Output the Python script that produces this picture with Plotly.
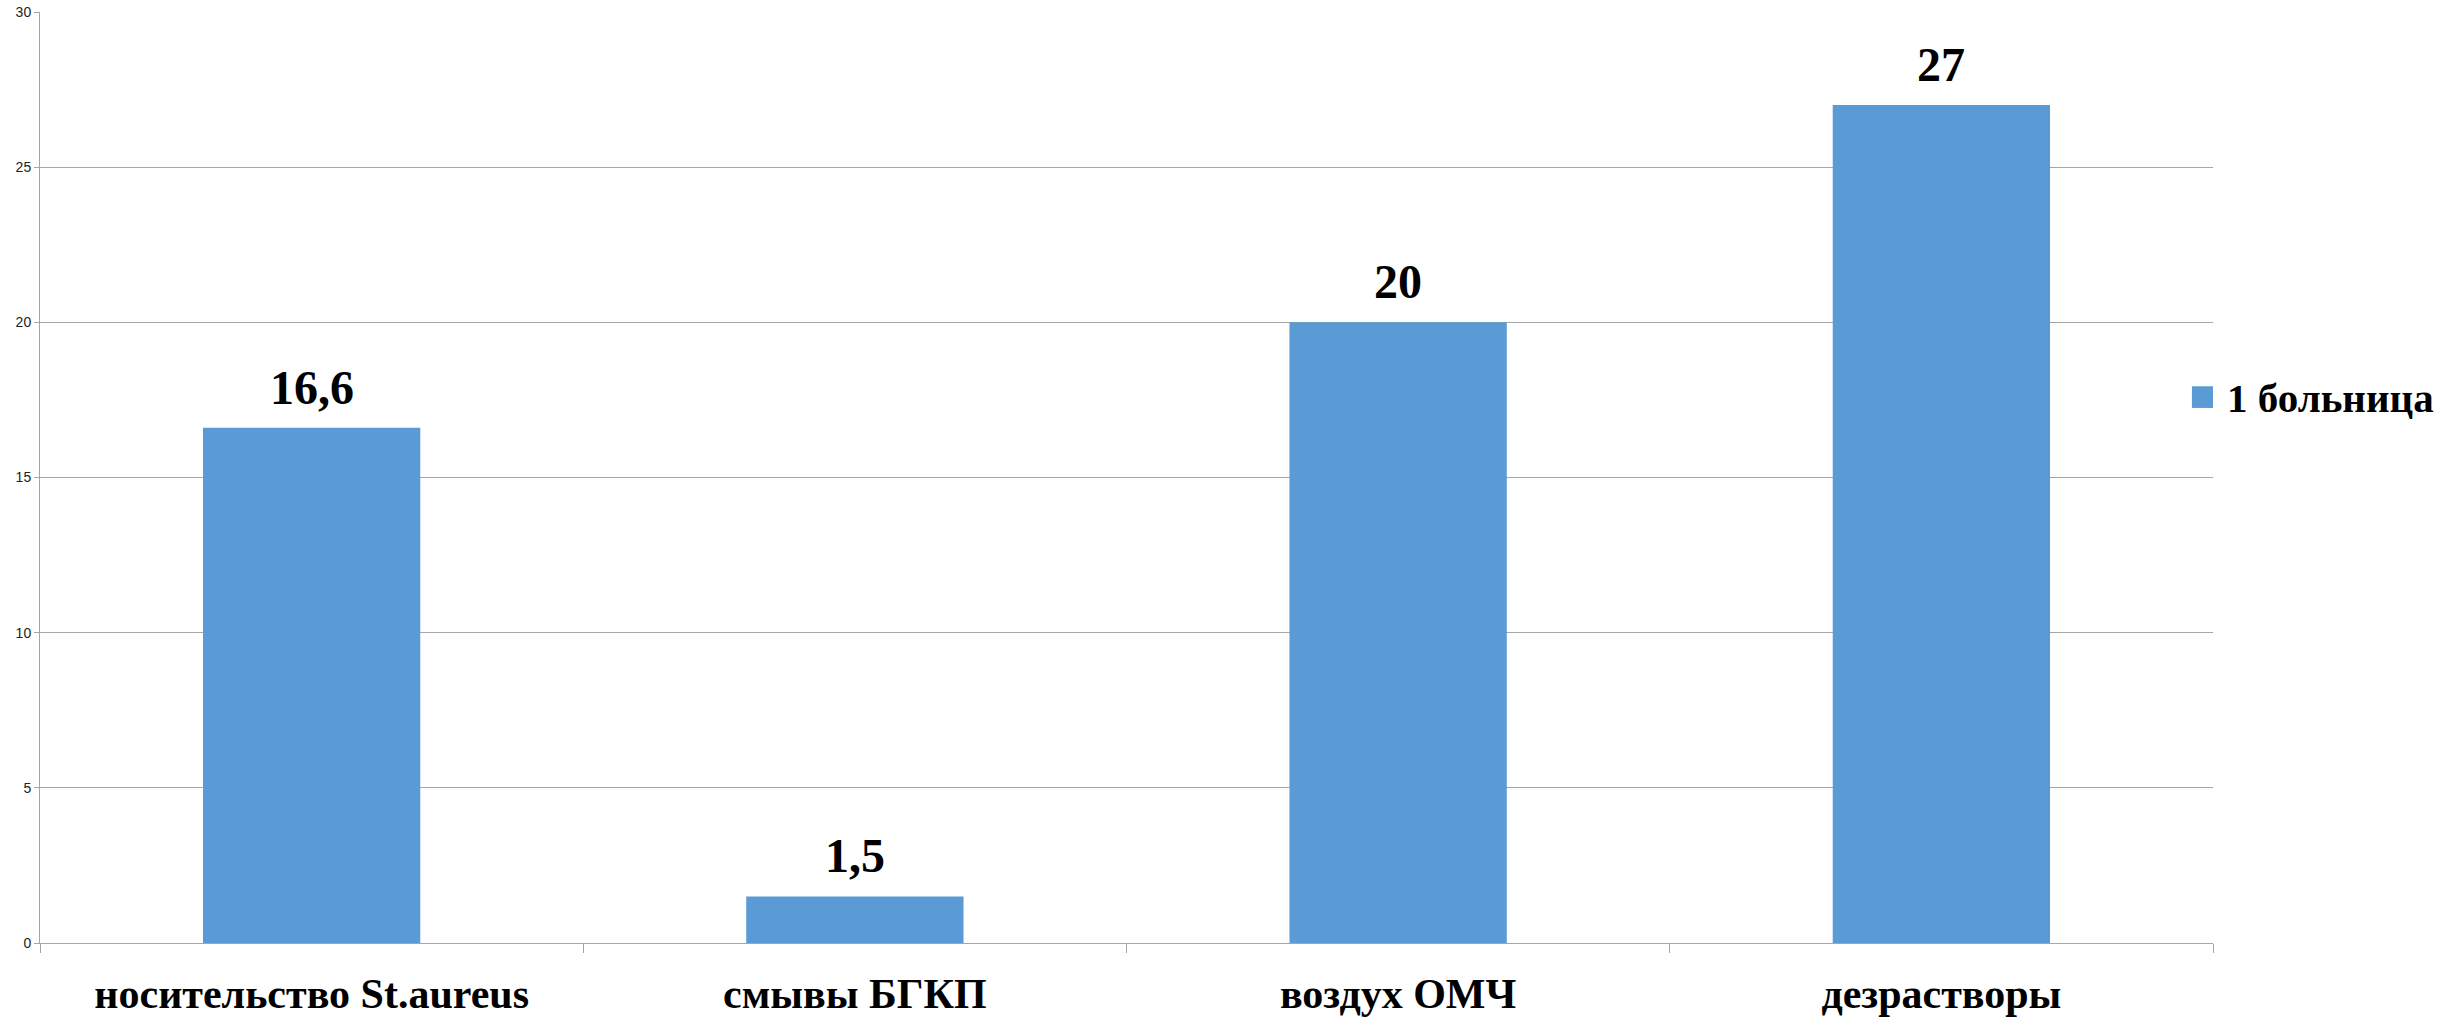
import plotly.graph_objects as go

# Categories and values
categories = ["носительство St.aureus", "смывы БГКП", "воздух ОМЧ", "дезрастворы"]
values = [16.6, 1.5, 20, 27]
series_name = "1 больница"
y_ticks = [0, 5, 10, 15, 20, 25, 30]

BAR_COLOR = "#5B9BD5"
GRID_COLOR = "#A6A6A6"
SERIF = "Liberation Serif"


def fmt(v):
    return f"{v:g}".replace(".", ",")


fig = go.Figure()
fig.add_trace(go.Bar(
    x=categories,
    y=values,
    name=series_name,
    marker=dict(color=BAR_COLOR, line=dict(width=0)),
    showlegend=False,
))

# Value labels above bars
for c, v in zip(categories, values):
    fig.add_annotation(
        x=c, y=v, text=fmt(v), showarrow=False,
        xref="x", yref="y", yanchor="bottom", yshift=12,
        font=dict(family=SERIF, size=48, color="black", weight="bold"),
    )

# Legend: colour swatch plus label to the right of the plot
fig.add_shape(
    type="rect", xref="paper", yref="paper",
    x0=0.9903, x1=1.0, y0=0.5747, y1=0.598,
    fillcolor=BAR_COLOR, line=dict(width=0),
)
fig.add_annotation(
    x=1.0055, y=0.5854, xref="paper", yref="paper",
    xanchor="left", yanchor="middle", showarrow=False,
    text=series_name,
    font=dict(family=SERIF, size=41, color="black", weight="bold"),
)

fig.update_layout(
    width=2460, height=1019,
    margin=dict(l=40, r=247, t=12, b=76),
    paper_bgcolor="white", plot_bgcolor="white",
    bargap=0.6,
)
fig.update_xaxes(
    type="category", automargin=False,
    showline=True, linecolor=GRID_COLOR, linewidth=1,
    ticks="outside", tickson="boundaries", ticklen=9, tickcolor=GRID_COLOR,
    tickfont=dict(family=SERIF, size=42, color="black", weight="bold"),
    ticklabelstandoff=14,
    showgrid=False,
)
fig.update_yaxes(
    range=[0, 30], tickvals=y_ticks, automargin=False,
    showgrid=True, gridcolor=GRID_COLOR, gridwidth=1,
    showline=True, linecolor=GRID_COLOR, linewidth=1,
    ticks="outside", ticklen=5, tickcolor=GRID_COLOR,
    tickfont=dict(family="Liberation Sans", size=14, color="#222222"),
    zeroline=False,
)

fig.write_html("out.html")
